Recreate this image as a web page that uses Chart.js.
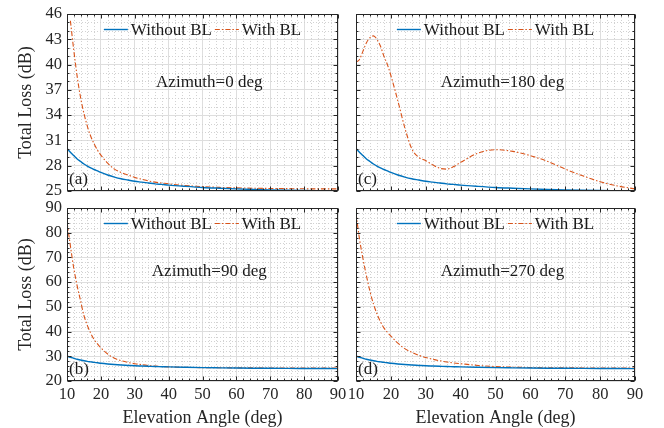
<!DOCTYPE html>
<html><head><meta charset="utf-8">
<script src="https://cdn.jsdelivr.net/npm/chart.js@4"></script>
<style>
html,body{margin:0;padding:0;background:#fff;width:664px;height:428px;overflow:hidden}
canvas{position:absolute}
</style></head><body>
<canvas id="ca" width="350" height="200" style="left:0;top:0;width:350px;height:200px"></canvas>
<canvas id="cc" width="310" height="200" style="left:345px;top:0;width:310px;height:200px"></canvas>
<canvas id="cb" width="350" height="228" style="left:0;top:200px;width:350px;height:228px"></canvas>
<canvas id="cd" width="310" height="228" style="left:345px;top:200px;width:310px;height:228px"></canvas>
<script>
// ---------------- data ----------------
const elevation = [10,11,12,13,14,15,16,17,18,19,20,22,24,26,28,30,32,34,36,38,40,45,50,55,60,65,70,75,80,85,90];
const withoutBL = [30.05,29.6,29.2,28.8,28.5,28.2,27.95,27.75,27.55,27.38,27.2,26.9,26.65,26.45,26.3,26.15,26.05,25.95,25.85,25.78,25.7,25.55,25.42,25.33,25.25,25.18,25.13,25.09,25.06,25.04,25.02];
const withBL_az0   = [null,45.2,41.7,38.6,36.1,34.2,32.7,31.5,30.6,29.85,29.25,28.3,27.6,27.2,26.9,26.6,26.4,26.2,26.05,25.95,25.85,25.65,25.52,25.43,25.37,25.33,25.3,25.28,25.26,25.25,25.25];
const withBL_az180 = [40.3,40.6,41.6,42.6,43.2,43.4,43.0,42.2,41.0,40.0,38.7,35.7,32.5,30.0,29.0,28.6,28.1,27.7,27.6,27.9,28.4,29.5,29.9,29.7,29.2,28.5,27.6,26.8,26.1,25.6,25.25];
const withBL_az90  = [84.3,74.7,65.6,58.5,52.5,46.5,42.5,39.3,36.8,35.0,33.4,30.9,29.2,28.2,27.5,27.0,26.6,26.25,26.0,25.85,25.72,25.52,25.42,25.36,25.32,25.3,25.28,25.27,25.26,25.25,25.25];
const withBL_az270 = [87.8,77.5,69.5,62.5,56.3,51.2,47.2,44.0,41.5,39.7,38.2,35.3,33.1,31.6,30.4,29.5,28.8,28.2,27.7,27.3,27.0,26.3,25.85,25.6,25.45,25.37,25.32,25.29,25.27,25.26,25.25];
const seriesLabels = ['Without BL','With BL'];
const xTicks = [10,20,30,40,50,60,70,80,90];
const yTicksTop = [25,28,31,34,37,40,43,46];
const yTicksBottom = [20,30,40,50,60,70,80,90];

// ---------------- style ----------------
const BLUE = '#0072BD', ORANGE = '#D95319';
const FONT = "Liberation Serif, DejaVu Serif, serif";
const AXIS = '#262626';
Chart.defaults.font.family = FONT;
Chart.defaults.color = AXIS;

function minorVals(min, max, step, major, base) {
  const out = [];
  const n = Math.round((max - min) / step);
  for (let i = 0; i <= n; i++) {
    const v = min + i * step;
    const r = (v - base) / major;
    if (Math.abs(r - Math.round(r)) < 1e-6) continue;
    out.push(v);
  }
  return out;
}

const decor = {
  id: 'panelDecor',
  beforeDatasetsDraw(chart, args, o) {
    const {ctx, chartArea: a, scales: {x, y}} = chart;
    ctx.save();
    ctx.strokeStyle = '#d2d2d2';
    ctx.lineWidth = 1;
    ctx.setLineDash([1, 2]);
    minorVals(x.min, x.max, o.minorX, o.majorX, x.min).forEach(v => {
      const px = Math.round(x.getPixelForValue(v)) + 0.5;
      ctx.beginPath(); ctx.moveTo(px, a.top); ctx.lineTo(px, a.bottom); ctx.stroke();
    });
    minorVals(y.min, y.max, o.minorY, o.majorY, y.min).forEach(v => {
      const py = Math.round(y.getPixelForValue(v)) + 0.5;
      ctx.beginPath(); ctx.moveTo(a.left, py); ctx.lineTo(a.right, py); ctx.stroke();
    });
    ctx.restore();
  },
  afterDatasetsDraw(chart, args, o) {
    const {ctx, chartArea: a, scales: {x, y}} = chart;
    const L = Math.round(a.left) + 0.5, R = Math.round(a.right) - 0.5;
    const T = Math.round(a.top) + 0.5, B = Math.round(a.bottom) - 0.5;
    ctx.save();
    ctx.strokeStyle = AXIS;
    ctx.lineWidth = 1;
    ctx.setLineDash([]);
    const tickX = (v, len) => {
      const px = Math.round(x.getPixelForValue(v)) + 0.5;
      ctx.beginPath(); ctx.moveTo(px, B); ctx.lineTo(px, B - len);
      ctx.moveTo(px, T); ctx.lineTo(px, T + len); ctx.stroke();
    };
    const tickY = (v, len) => {
      const py = Math.round(y.getPixelForValue(v)) + 0.5;
      ctx.beginPath(); ctx.moveTo(L, py); ctx.lineTo(L + len, py);
      ctx.moveTo(R, py); ctx.lineTo(R - len, py); ctx.stroke();
    };
    x.ticks.forEach(t => tickX(t.value, 4));
    y.ticks.forEach(t => tickY(t.value, 4));
    minorVals(x.min, x.max, o.minorX, o.majorX, x.min).forEach(v => tickX(v, 2));
    minorVals(y.min, y.max, o.minorY, o.majorY, y.min).forEach(v => tickY(v, 2));
    ctx.strokeRect(L, T, R - L, B - T);
    ctx.restore();
  },
  afterDraw(chart, args, o) {
    const {ctx, chartArea: a, scales: {x, y}} = chart;
    const ds = chart.data.datasets;
    ctx.save();
    ctx.font = '17px ' + FONT;
    ctx.fillStyle = '#1a1a1a';
    ctx.textBaseline = 'middle';
    const lineLen = 24, gap = 3;
    const w0 = ctx.measureText(ds[0].label).width;
    const w1 = ctx.measureText(ds[1].label).width;
    const total = lineLen + gap + w0 + gap + lineLen + gap + w1;
    let cx = (a.left + a.right) / 2 - total / 2;
    const ly = a.top + 15.5;
    [[ds[0], w0], [ds[1], w1]].forEach(([d, w]) => {
      ctx.strokeStyle = d.borderColor;
      ctx.lineWidth = d.borderWidth;
      ctx.setLineDash(d.borderDash || []);
      ctx.beginPath(); ctx.moveTo(cx, ly); ctx.lineTo(cx + lineLen, ly); ctx.stroke();
      cx += lineLen + gap;
      ctx.textAlign = 'left';
      ctx.fillText(d.label, cx, ly + 1);
      cx += w + gap;
    });
    ctx.textAlign = 'center';
    ctx.fillText(o.azText, x.getPixelForValue(o.azX), y.getPixelForValue(o.azY));
    ctx.textAlign = 'left';
    ctx.fillText(o.panel, a.left + 2, a.bottom - 11);
    ctx.restore();
  }
};

function makeChart(id, p) {
  const datasets = [
    {label: seriesLabels[0], data: elevation.map((e, i) => ({x: e, y: withoutBL[i]})),
     borderColor: BLUE, borderWidth: 1.4, pointRadius: 0, cubicInterpolationMode: 'monotone'},
    {label: seriesLabels[1], data: elevation.map((e, i) => ({x: e, y: p.withBL[i]})),
     borderColor: ORANGE, borderWidth: 1.1, borderDash: [5, 2, 1.5, 2], pointRadius: 0, cubicInterpolationMode: 'monotone'}
  ];
  const yT = p.yTicks;
  return new Chart(document.getElementById(id), {
    type: 'line',
    data: {datasets},
    options: {
      responsive: false, animation: false, events: [],
      layout: {padding: {left: 0, top: p.top, right: p.right, bottom: 0}},
      plugins: {
        legend: {display: false}, tooltip: {enabled: false},
        panelDecor: {minorX: 2, majorX: 10, minorY: p.minorY, majorY: yT[1] - yT[0],
                     azText: p.azText, azX: 52, azY: p.azY, panel: p.panel}
      },
      scales: {
        x: {
          type: 'linear', min: xTicks[0], max: xTicks[xTicks.length - 1],
          ticks: {display: p.showX, stepSize: xTicks[1] - xTicks[0], padding: 4, font: {size: 16.5}, autoSkip: false, maxRotation: 0},
          grid: {color: '#dedede', drawTicks: false, lineWidth: 1},
          border: {display: false},
          title: {display: p.showX, text: 'Elevation Angle (deg)', font: {size: 18, lineHeight: 1.05}, padding: {top: 0, bottom: 0}},
          afterFit(s) { s.height = p.xh; s.paddingLeft = 0; s.paddingRight = 0; }
        },
        y: {
          type: 'linear', min: yT[0], max: yT[yT.length - 1],
          ticks: {display: p.showY, stepSize: yT[1] - yT[0], padding: 5, font: {size: 16.5}, autoSkip: false},
          grid: {color: '#dedede', drawTicks: false, lineWidth: 1},
          border: {display: false},
          title: {display: p.showY, text: 'Total Loss (dB)', font: {size: 18}, padding: {top: 15, bottom: 0}},
          afterFit(s) { s.width = p.yw; s.paddingTop = 0; s.paddingBottom = 0; }
        }
      }
    },
    plugins: [decor]
  });
}

makeChart('ca', {withBL: withBL_az0, yTicks: yTicksTop, minorY: 1, showX: false, showY: true,
  top: 14, right: 12, xh: 9, yw: 67, azText: 'Azimuth=0 deg', azY: 37.9, panel: '(a)'});
makeChart('cc', {withBL: withBL_az180, yTicks: yTicksTop, minorY: 1, showX: false, showY: false,
  top: 14, right: 20, xh: 9, yw: 11, azText: 'Azimuth=180 deg', azY: 37.9, panel: '(c)'});
makeChart('cb', {withBL: withBL_az90, yTicks: yTicksBottom, minorY: 2, showX: true, showY: true,
  top: 8, right: 12, xh: 47, yw: 67, azText: 'Azimuth=90 deg', azY: 64.4, panel: '(b)'});
makeChart('cd', {withBL: withBL_az270, yTicks: yTicksBottom, minorY: 2, showX: true, showY: false,
  top: 8, right: 20, xh: 47, yw: 11, azText: 'Azimuth=270 deg', azY: 64.4, panel: '(d)'});
</script>
</body></html>
